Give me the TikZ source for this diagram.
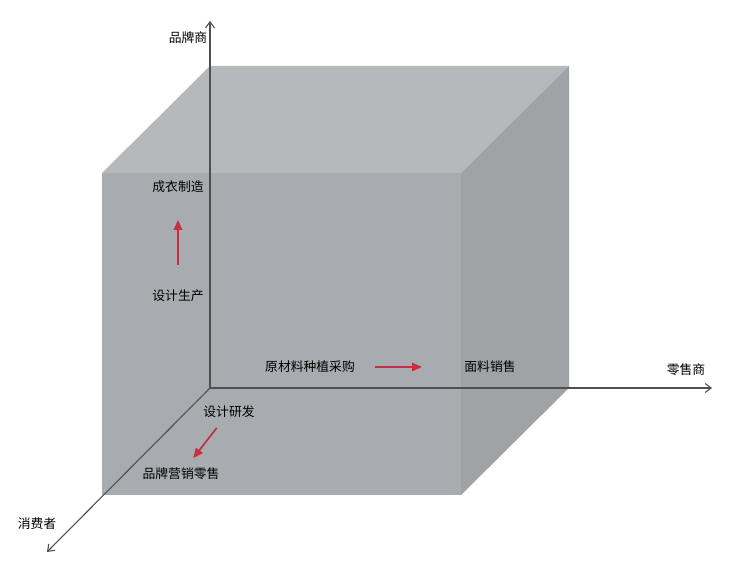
\documentclass[tikz,border=0pt]{standalone}
\usepackage{fontspec}
\setmainfont{Noto Sans CJK SC}
\usepackage{tikz}
\usetikzlibrary{positioning}
\usetikzlibrary{arrows.meta}
\definecolor{topgray}{HTML}{B6B9BC}
\definecolor{frontgray}{HTML}{A8ABAF}
\definecolor{sidegray}{HTML}{A0A2A5}
\definecolor{axisgray}{HTML}{4F4F4F}
\definecolor{flowred}{HTML}{C4303E}
\tikzset {
  % text labels
  lbl/.style = {inner sep=2pt, font=\fontsize{12.8}{15}\selectfont},
  % the three axes
  axis/.style = {axisgray, line width=1.1pt, -{Straight Barb[length=6pt, width=9pt]}},
  % red arrows inside the cube
  flow/.style = {flowred, line width=1.7pt, -{Triangle[length=10pt, width=8.5pt]}},
}
\begin{document}
\begin{tikzpicture}[x=1pt, y=-1pt]
        \useasboundingbox (0,0) rectangle (753,569);

        % cube faces
        \fill[topgray] (102,173) -- (210,66) -- (569,66) -- (461,173) -- cycle;
        \fill[sidegray] (461,173) -- (569,66) -- (569,388) -- (461,495) -- cycle;
        \fill[frontgray] (102,173) rectangle (461,495);

        % axes
        \coordinate (o) at (210,388);
        \coordinate (up) at (210,21);
        \coordinate (right) at (712,388);
        \coordinate (down) at (47,552);
        \draw[axis] (o) -- (up);
        \draw[axis] (o) -- (right);
        \draw[axis] (o) -- (down);

        \node[lbl] (ppsh) at (188,38) {品牌商};
        \node[lbl] (lss) at (686,370) {零售商};
        \node[lbl] (xfz) at (37,524) {消费者};

        \node[lbl] (cy) at (178,187) {成衣制造};
        \node[lbl] (sjsc) at (178,296) {设计生产};
        \node[lbl] (ycl) at (310,367) {原材料种植采购};
        \node[lbl] (ml) at (490,367) {面料销售};
        \node[lbl] (sjyf) at (229,412) {设计研发};
        \node[lbl] (ppyx) at (181,474) {品牌营销零售};

        \draw[flow, shorten <=31pt, shorten >=33pt] (sjsc.center) -- (cy.center);
        \draw[flow, shorten <=65pt, shorten >=68pt] (ycl.center) -- (ml.center);
        \draw[flow, shorten <=20pt, shorten >=20pt] (sjyf.center) -- (ppyx.center);
      \end{tikzpicture}
\end{document}
